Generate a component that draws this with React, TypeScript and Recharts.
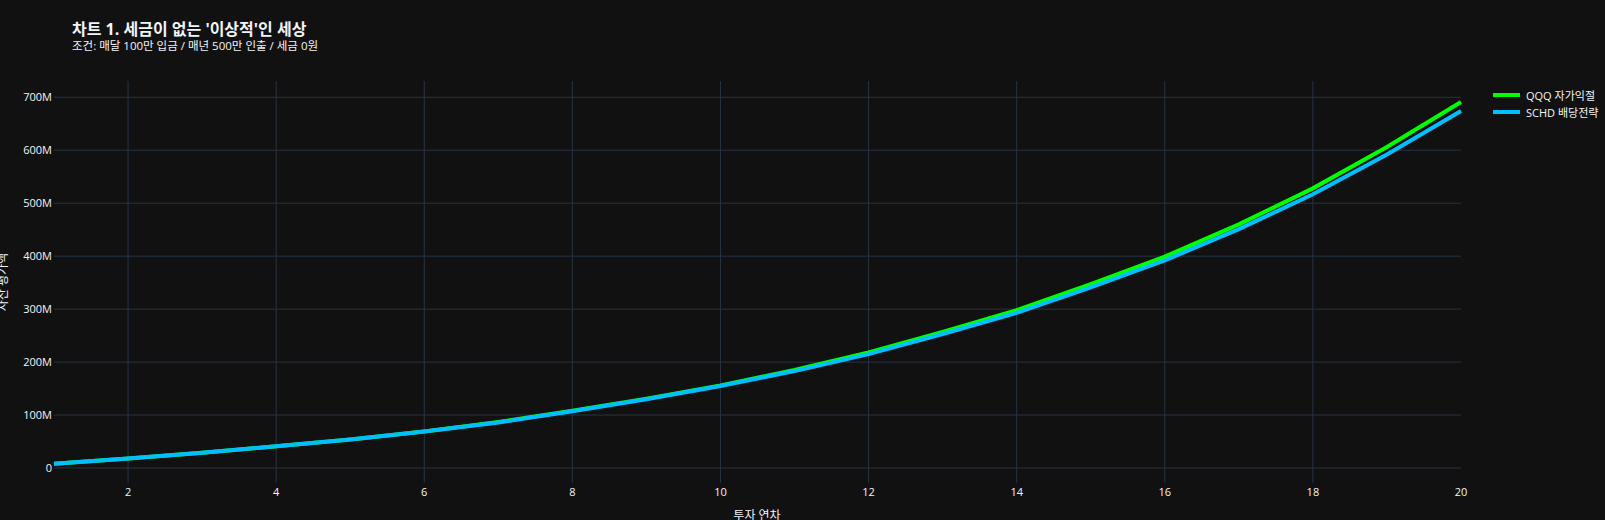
import { LineChart, Line, XAxis, YAxis, CartesianGrid } from 'recharts';

// 투자 연차별 자산 평가액 (단위: 백만 원)
const years = [1, 2, 3, 4, 5, 6, 7, 8, 9, 10, 11, 12, 13, 14, 15, 16, 17, 18, 19, 20];
const qqqValues = [8, 18, 29, 41, 54, 69, 87, 108, 131, 156, 185, 218, 257, 298, 347, 399, 460, 528, 606, 691];
const schdValues = [8, 18, 29, 41, 54, 69, 86, 107, 130, 155, 183, 215, 253, 293, 341, 392, 451, 517, 592, 674];

const xTicks = [2, 4, 6, 8, 10, 12, 14, 16, 18, 20];
const yTicks = [0, 100, 200, 300, 400, 500, 600, 700];

const series = [
  { key: 'qqq', name: 'QQQ 자가익절', color: '#00ff00' },
  { key: 'schd', name: 'SCHD 배당전략', color: '#00bfff' },
];

const data = years.map((year, i) => ({ year, qqq: qqqValues[i], schd: schdValues[i] }));

const BG = '#111111';
const TEXT = '#f2f5fa';
const GRID = '#283442';
const FONT = '"Open Sans", "Noto Sans CJK KR", sans-serif';

export default function App() {
  const tick = { fontSize: 11, fill: TEXT, fontFamily: FONT };
  return (
    <div style={{ position: 'absolute', left: 0, top: 0, width: 1605, height: 520, background: BG, overflow: 'hidden', fontFamily: FONT, color: TEXT }}>
      <div style={{ position: 'absolute', left: 72, top: 21, fontSize: 16, lineHeight: '16px', fontWeight: 700, whiteSpace: 'nowrap' }}>
        차트 1. 세금이 없는 '이상적'인 세상
      </div>
      <div style={{ position: 'absolute', left: 72, top: 39, fontSize: 11.5, lineHeight: '13px', whiteSpace: 'nowrap' }}>
        조건: 매달 100만 입금 / 매년 500만 인출 / 세금 0원
      </div>

      <LineChart width={1605} height={520} data={data} margin={{ top: 81, right: 144, bottom: 7, left: 0 }}>
        <CartesianGrid
          stroke={GRID}
          strokeWidth={1}
          verticalValues={xTicks.filter(t => t < 20)}
          horizontalValues={yTicks}
        />
        <XAxis
          dataKey="year"
          type="number"
          domain={[1, 20]}
          ticks={xTicks}
          height={30}
          axisLine={false}
          tickLine={false}
          tickSize={0}
          tickMargin={5}
          tick={tick}
        />
        <YAxis
          type="number"
          domain={[-28.3, 730.7]}
          ticks={yTicks}
          width={54}
          axisLine={false}
          tickLine={false}
          tickSize={0}
          tickMargin={2}
          tick={tick}
          tickFormatter={(v: number) => (v === 0 ? '0' : `${v}M`)}
        />
        {series.map(s => (
          <Line
            key={s.key}
            dataKey={s.key}
            name={s.name}
            type="linear"
            stroke={s.color}
            strokeWidth={4}
            dot={false}
            activeDot={false}
            isAnimationActive={false}
          />
        ))}
      </LineChart>

      <div style={{ position: 'absolute', left: 757, top: 515, transform: 'translate(-50%, -50%)', fontSize: 12, whiteSpace: 'nowrap' }}>
        투자 연차
      </div>
      <div style={{ position: 'absolute', left: 2, top: 282, transform: 'translate(-50%, -50%) rotate(-90deg)', fontSize: 12, whiteSpace: 'nowrap' }}>
        자산 평가액
      </div>

      <div style={{ position: 'absolute', left: 1493, top: 86 }}>
        {series.map(s => (
          <div key={s.key} style={{ display: 'flex', alignItems: 'center', height: 17, fontSize: 11, whiteSpace: 'nowrap' }}>
            <span style={{ width: 27, height: 4, background: s.color, marginRight: 6 }} />
            <span>{s.name}</span>
          </div>
        ))}
      </div>
    </div>
  );
}
